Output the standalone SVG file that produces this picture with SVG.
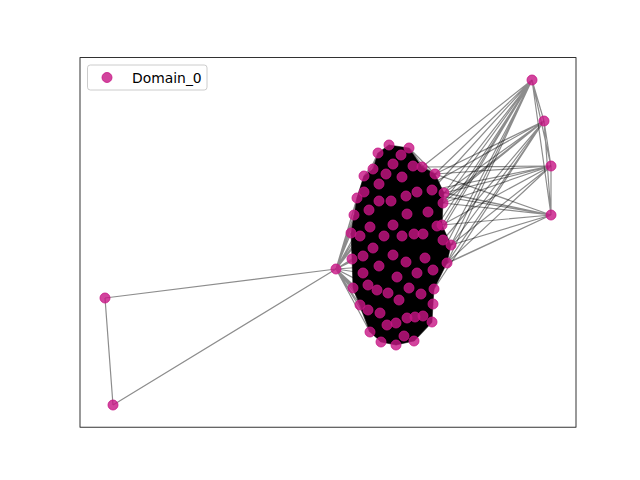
<svg xmlns="http://www.w3.org/2000/svg" width="640" height="480" viewBox="0 0 640 480">
<style>
.e{stroke:#000;stroke-opacity:0.45;stroke-width:1.2;fill:none}
.n{fill:#c71585;fill-opacity:0.8;stroke:#c71585;stroke-opacity:0.8;stroke-width:1}
.t{font-family:"DejaVu Sans",sans-serif;font-size:13.9px;fill:#000}
</style>
<defs><circle id="m" r="5" class="n"/></defs>
<rect x="0" y="0" width="640" height="480" fill="#fff"/>
<rect x="80" y="57.6" width="496" height="369.6" fill="none" stroke="#000" stroke-width="0.8"/>
<g id="connectors">
<polygon points="389,145 409,148 422,167 435,174 444,193 443,203 442,225 451,245 447,263 434,289 433,304 432,322 414,341 396,345 381,342 370,332 360,305 353,288 352,259 351,233 354,215 357,198 364,176 373,169 378,153" fill="#000" stroke="#000" stroke-opacity="0.5" stroke-width="1"/>
<path class="e" d="M105,298L336,269M105,298L113,405M113,405L336,269"/>
<path class="e" d="M336,269L351,233M336,269L354,215M336,269L357,198M336,269L352,259M336,269L353,288M336,269L360,305M336,269L370,332M336,269L363,273M336,269L363,256M336,269L364,192M336,269L368,310M336,269L381,342M336,269L373,248M336,269L369,210M336,269L396,345M336,269L364,176M336,269L380,313M336,269L360,236M336,269L370,227M336,269L377,290M336,269L387,325M336,269L414,341M336,269L404,336M336,269L379,266M336,269L368,285M336,269L379,201M336,269L373,169"/>
<path class="e" d="M389,145L435,174M409,148L435,174M378,153L357,198M389,145L364,176M401,155L435,174M414,341L432,322M396,345L433,304M381,342L360,305M404,336L432,322M409,148L444,193M389,145L422,167M378,153L364,192M370,332L353,288M414,341L434,289"/>
<path class="e" d="M532,80L544,121M532,80L551,166M532,80L551,215M544,121L551,166M544,121L551,215M551,166L551,215"/>
<path class="e" d="M532,80L435,174M532,80L444,193M532,80L443,203M532,80L442,225M532,80L451,245M532,80L447,263M532,80L432,190M532,80L437,226M532,80L425,258M532,80L433,270M532,80L422,167"/>
<path class="e" d="M544,121L435,174M544,121L444,193M544,121L443,203M544,121L451,245M544,121L447,263M544,121L428,212M544,121L417,192M544,121L443,240M544,121L434,289"/>
<path class="e" d="M551,166L435,174M551,166L444,193M551,166L443,203M551,166L442,225M551,166L451,245M551,166L432,190M551,166L422,167M551,166L447,263"/>
<path class="e" d="M551,215L435,174M551,215L444,193M551,215L443,203M551,215L442,225M551,215L451,245M551,215L447,263M551,215L417,192M551,215L433,270M551,215L432,190"/>
</g>
<g id="nodes">
<g id="n_l1"><use href="#m" x="105" y="298"/></g>
<g id="n_l2"><use href="#m" x="113" y="405"/></g>
<g id="n_hub"><use href="#m" x="336" y="269"/></g>
<g id="n_r1"><use href="#m" x="532" y="80"/></g>
<g id="n_r2"><use href="#m" x="544" y="121"/></g>
<g id="n_r3"><use href="#m" x="551" y="166"/></g>
<g id="n_r4"><use href="#m" x="551" y="215"/></g>
<g id="n_c1"><use href="#m" x="389" y="145"/></g>
<g id="n_c2"><use href="#m" x="409" y="148"/></g>
<g id="n_c3"><use href="#m" x="378" y="153"/></g>
<g id="n_c4"><use href="#m" x="401" y="155"/></g>
<g id="n_c5"><use href="#m" x="393" y="164"/></g>
<g id="n_c6"><use href="#m" x="413" y="166"/></g>
<g id="n_c7"><use href="#m" x="422" y="167"/></g>
<g id="n_c8"><use href="#m" x="373" y="169"/></g>
<g id="n_c9"><use href="#m" x="364" y="176"/></g>
<g id="n_c10"><use href="#m" x="386" y="174"/></g>
<g id="n_c11"><use href="#m" x="402" y="177"/></g>
<g id="n_c12"><use href="#m" x="435" y="174"/></g>
<g id="n_c13"><use href="#m" x="379" y="184"/></g>
<g id="n_c14"><use href="#m" x="364" y="192"/></g>
<g id="n_c15"><use href="#m" x="417" y="192"/></g>
<g id="n_c16"><use href="#m" x="432" y="190"/></g>
<g id="n_c17"><use href="#m" x="444" y="193"/></g>
<g id="n_c18"><use href="#m" x="357" y="198"/></g>
<g id="n_c19"><use href="#m" x="379" y="201"/></g>
<g id="n_c20"><use href="#m" x="391" y="201"/></g>
<g id="n_c21"><use href="#m" x="406" y="196"/></g>
<g id="n_c22"><use href="#m" x="443" y="203"/></g>
<g id="n_c23"><use href="#m" x="369" y="210"/></g>
<g id="n_c24"><use href="#m" x="407" y="214"/></g>
<g id="n_c25"><use href="#m" x="428" y="212"/></g>
<g id="n_c26"><use href="#m" x="354" y="215"/></g>
<g id="n_c27"><use href="#m" x="370" y="227"/></g>
<g id="n_c28"><use href="#m" x="393" y="225"/></g>
<g id="n_c29"><use href="#m" x="437" y="226"/></g>
<g id="n_c30"><use href="#m" x="442" y="225"/></g>
<g id="n_c31"><use href="#m" x="351" y="233"/></g>
<g id="n_c32"><use href="#m" x="360" y="236"/></g>
<g id="n_c33"><use href="#m" x="384" y="236"/></g>
<g id="n_c34"><use href="#m" x="402" y="236"/></g>
<g id="n_c35"><use href="#m" x="414" y="234"/></g>
<g id="n_c36"><use href="#m" x="423" y="234"/></g>
<g id="n_c37"><use href="#m" x="443" y="240"/></g>
<g id="n_c38"><use href="#m" x="451" y="245"/></g>
<g id="n_c39"><use href="#m" x="373" y="248"/></g>
<g id="n_c40"><use href="#m" x="352" y="259"/></g>
<g id="n_c41"><use href="#m" x="363" y="256"/></g>
<g id="n_c42"><use href="#m" x="393" y="255"/></g>
<g id="n_c43"><use href="#m" x="406" y="262"/></g>
<g id="n_c44"><use href="#m" x="425" y="258"/></g>
<g id="n_c45"><use href="#m" x="447" y="263"/></g>
<g id="n_c46"><use href="#m" x="379" y="266"/></g>
<g id="n_c47"><use href="#m" x="363" y="273"/></g>
<g id="n_c48"><use href="#m" x="433" y="270"/></g>
<g id="n_c49"><use href="#m" x="397" y="277"/></g>
<g id="n_c50"><use href="#m" x="417" y="273"/></g>
<g id="n_c51"><use href="#m" x="353" y="288"/></g>
<g id="n_c52"><use href="#m" x="368" y="285"/></g>
<g id="n_c53"><use href="#m" x="377" y="290"/></g>
<g id="n_c54"><use href="#m" x="388" y="293"/></g>
<g id="n_c55"><use href="#m" x="409" y="288"/></g>
<g id="n_c56"><use href="#m" x="434" y="289"/></g>
<g id="n_c57"><use href="#m" x="421" y="294"/></g>
<g id="n_c58"><use href="#m" x="399" y="300"/></g>
<g id="n_c59"><use href="#m" x="360" y="305"/></g>
<g id="n_c60"><use href="#m" x="368" y="310"/></g>
<g id="n_c61"><use href="#m" x="380" y="313"/></g>
<g id="n_c62"><use href="#m" x="433" y="304"/></g>
<g id="n_c63"><use href="#m" x="407" y="318"/></g>
<g id="n_c64"><use href="#m" x="415" y="317"/></g>
<g id="n_c65"><use href="#m" x="423" y="316"/></g>
<g id="n_c66"><use href="#m" x="396" y="323"/></g>
<g id="n_c67"><use href="#m" x="387" y="325"/></g>
<g id="n_c68"><use href="#m" x="432" y="322"/></g>
<g id="n_c69"><use href="#m" x="370" y="332"/></g>
<g id="n_c70"><use href="#m" x="404" y="336"/></g>
<g id="n_c71"><use href="#m" x="381" y="342"/></g>
<g id="n_c72"><use href="#m" x="414" y="341"/></g>
<g id="n_c73"><use href="#m" x="396" y="345"/></g>
</g>
<g id="legend">
<rect x="87.5" y="65" width="119.5" height="25" rx="2.8" fill="#fff" fill-opacity="0.8" stroke="#cccccc" stroke-width="1"/>
<use href="#m" x="107" y="77.5"/>
<text class="t" x="132" y="82.5">Domain_0</text>
</g>
</svg>
